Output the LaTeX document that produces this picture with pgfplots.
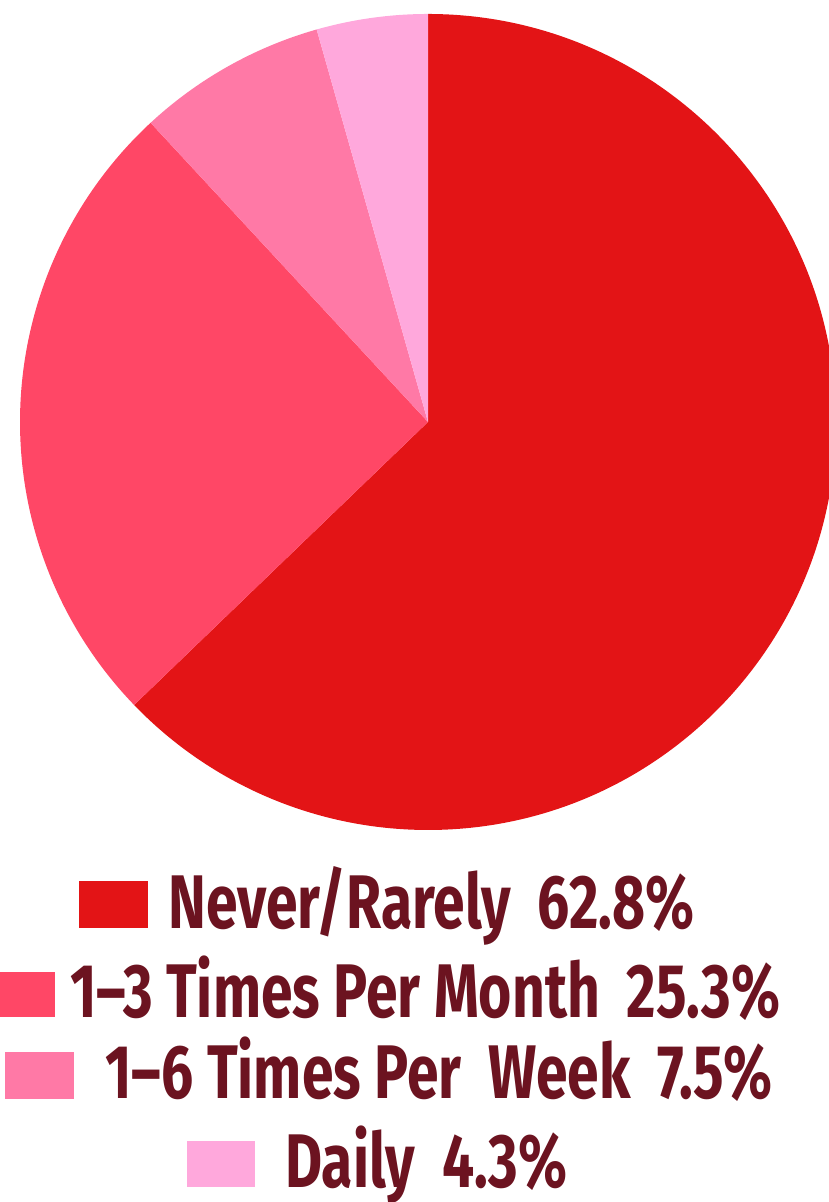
\documentclass[border=0pt]{standalone}
\usepackage{pgfplots}
\pgfplotsset{compat=1.18}
\usepackage{pgfplotstable}
\usepackage{fontspec}
\setmainfont{Fira Sans}[FakeStretch=0.75]

\definecolor{cnever}{RGB}{227,20,22}
\definecolor{cmonth}{RGB}{255,71,102}
\definecolor{cweek}{RGB}{255,121,166}
\definecolor{cdaily}{RGB}{255,168,220}
\definecolor{ctext}{RGB}{108,19,32}

\pgfplotstableread{
label value
Never 62.8
Month 25.3
Week 7.5
Daily 4.3
}\piedata

\begin{document}
\begin{tikzpicture}
\useasboundingbox (0,0) rectangle (414.5bp,601bp);
\clip (0,0) rectangle (414.5bp,601bp);

\pgfplotstablegetelem{0}{value}\of\piedata \let\va\pgfplotsretval
\pgfplotstablegetelem{1}{value}\of\piedata \let\vb\pgfplotsretval
\pgfplotstablegetelem{2}{value}\of\piedata \let\vc\pgfplotsretval
\pgfmathsetmacro\aA{90}
\pgfmathsetmacro\aB{\aA-\va*3.6}
\pgfmathsetmacro\aC{\aB-\vb*3.6}
\pgfmathsetmacro\aD{\aC-\vc*3.6}
\pgfmathsetmacro\aE{\aA-360}

\begin{axis}[
at={(0,0)}, anchor=south west,
width=414.5bp, height=601bp, scale only axis,
xmin=0, xmax=414.5, ymin=0, ymax=601,
hide axis, clip=false
]
\addplot [draw=none] coordinates {(214,390)};
\fill[cnever] (axis cs:214,390) -- ++(\aA:204bp) arc[start angle=\aA, end angle=\aB, radius=204bp] -- cycle;
\fill[cmonth] (axis cs:214,390) -- ++(\aB:204bp) arc[start angle=\aB, end angle=\aC, radius=204bp] -- cycle;
\fill[cweek] (axis cs:214,390) -- ++(\aC:204bp) arc[start angle=\aC, end angle=\aD, radius=204bp] -- cycle;
\fill[cdaily] (axis cs:214,390) -- ++(\aD:204bp) arc[start angle=\aD, end angle=\aE, radius=204bp] -- cycle;
\end{axis}

% legend
\fill[cnever] (39.5bp,137bp) rectangle (74bp,160.5bp);
\fill[cmonth] (0bp,92.5bp) rectangle (27.5bp,115bp);
\fill[cweek] (2.5bp,51.5bp) rectangle (37bp,75bp);
\fill[cdaily] (93.5bp,7.5bp) rectangle (127.5bp,30.5bp);
\begin{scope}[every node/.style={anchor=base west, inner sep=0pt, text=ctext, font=\fontsize{38bp}{40bp}\selectfont\bfseries}]
\node at (84bp,136.5bp) {Never/Rarely\ \ 62.8\%};
\node at (35bp,92bp) {1–3 Times Per Month\ \ 25.3\%};
\node at (52.5bp,51.5bp) {1–6 Times Per\ \ Week\ \ 7.5\%};
\node at (142.5bp,7.5bp) {Daily\ \ 4.3\%};
\end{scope}
\end{tikzpicture}
\end{document}
